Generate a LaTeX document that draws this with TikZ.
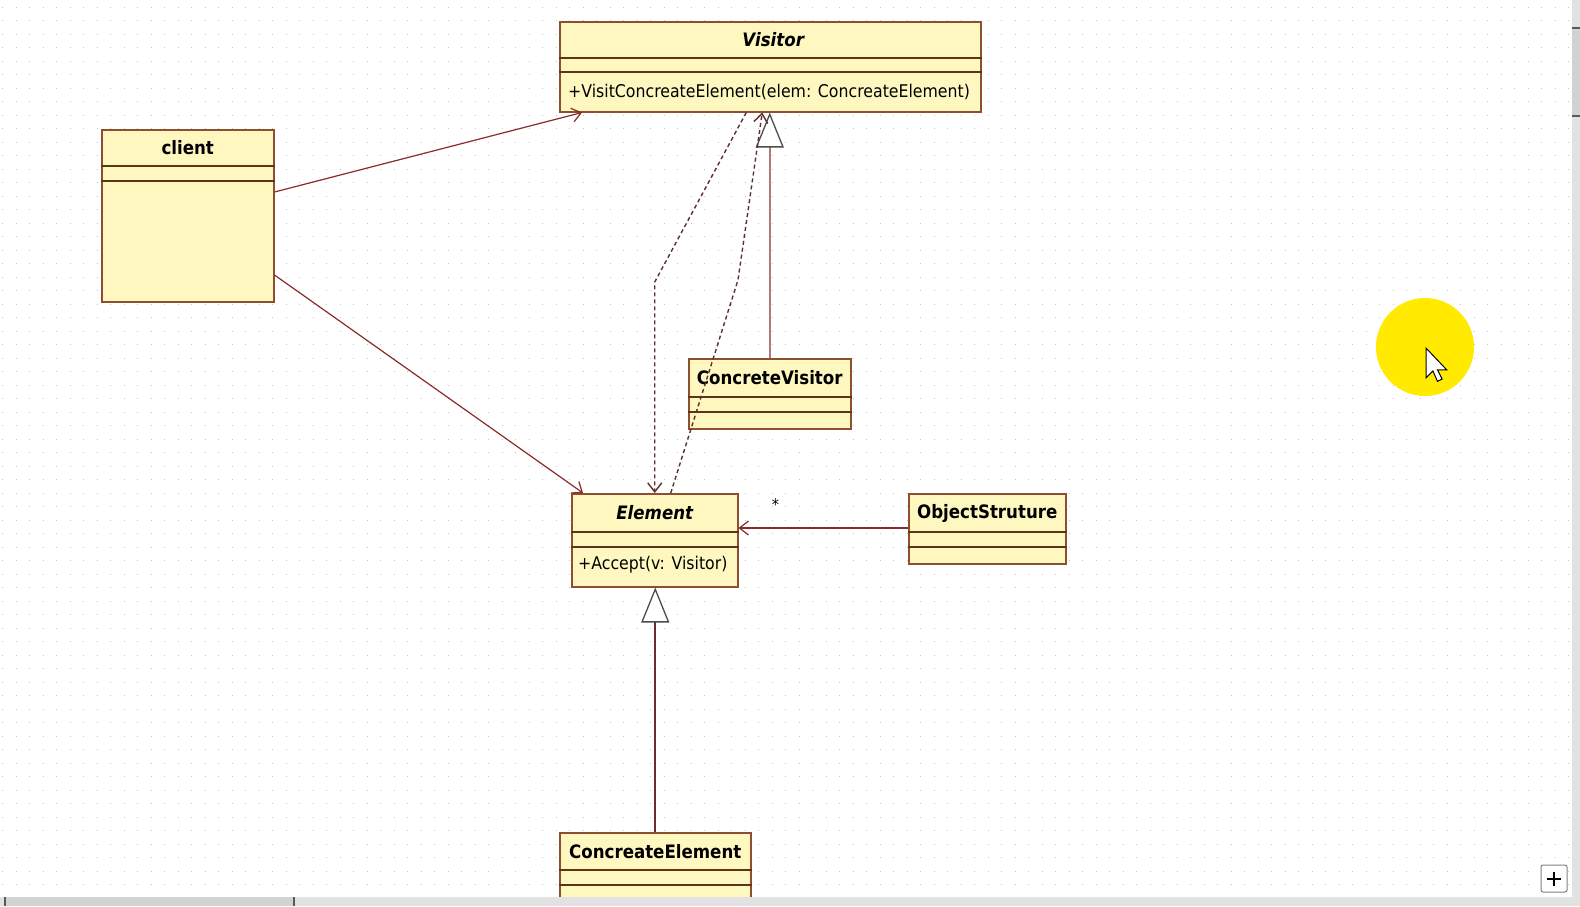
\documentclass[tikz,border=0pt]{standalone}
\usepackage{fontspec}
\setmainfont{DejaVu Sans}[FakeStretch=0.9]
\usetikzlibrary{arrows.meta,positioning,calc}
\definecolor{clsfill}{HTML}{FFF7C0}
\definecolor{clsdraw}{HTML}{8C5030}
\definecolor{clssep}{HTML}{5E3418}
\definecolor{assoc}{HTML}{8B2A2A}
\definecolor{dep}{HTML}{5A3030}
\definecolor{gen}{HTML}{6A2C2C}
\definecolor{genpale}{HTML}{B07A7A}
\definecolor{gridgray}{HTML}{C4C4C4}
\definecolor{barfill}{HTML}{E2E2E2}
\definecolor{thumbfill}{HTML}{D2D2D2}
\definecolor{marker}{HTML}{FFEA00}
\tikzset{
  >=Latex,
  % classes
  cls/.style={draw=clsdraw,fill=clsfill,line width=1.5pt,inner sep=0pt,anchor=north west},
  sepline/.style={draw=clssep,line width=1.4pt},
  clsname/.style={font=\fontsize{18.5}{20}\selectfont\bfseries,inner sep=0pt},
  oper/.style={font=\fontsize{17.5}{20}\selectfont,anchor=west,inner sep=0pt},
  mult/.style={font=\fontsize{16}{18}\selectfont,inner sep=0pt},
  % connectors
  assocline/.style={draw=assoc,line width=1.2pt,-{Straight Barb[length=9pt,width=14pt]}},
  depline/.style={assocline,draw=dep,line width=1.4pt,dash pattern=on 4pt off 3pt},
  genline/.style={draw=gen,line width=1.8pt,
    -{Triangle[length=35pt,width=28pt,fill=white,color=black!70,line width=1.3pt]}},
  % screen parts
  griddot/.style={draw=gridgray,line width=1pt,dash pattern=on 1pt off 12.5pt},
  barend/.style={draw=black!65,line width=2pt}
}

\begin{document}
\begin{tikzpicture}[x=1pt,y=-1pt]
  %--- canvas
  \fill[white] (0,0) rectangle (1580,906);
  \useasboundingbox (0,0) rectangle (1580,906);
  \foreach \y in {7,20.5,...,894}
    \draw[griddot] (2,\y) -- (1570,\y);

  %--- classes
  \node[cls,minimum width=421pt,minimum height=90pt] (visitor) at (559,21) {};
  \node[cls,minimum width=172pt,minimum height=172pt] (client) at (101,129) {};
  \node[cls,minimum width=162pt,minimum height=70pt] (concVisitor) at (688,358) {};
  \node[cls,minimum width=166pt,minimum height=93pt] (element) at (571,493) {};
  \node[cls,minimum width=157pt,minimum height=70pt] (objStruct) at (908,493) {};
  \node[cls,minimum width=191pt,minimum height=70pt] (concElement) at (559,832) {};

  %--- compartments
  \foreach \n/\a/\b in {visitor/37pt/51pt,client/37pt/52pt,concVisitor/39pt/54pt,
                        element/39pt/54pt,objStruct/39pt/54pt,concElement/38pt/53pt}{
    \draw[sepline] ([yshift=-\a]\n.north west) -- ([yshift=-\a]\n.north east);
    \draw[sepline] ([yshift=-\b]\n.north west) -- ([yshift=-\b]\n.north east);
  }

  %--- names and operations
  \node[clsname] (visitorName) at ([xshift=3pt,yshift=-19pt]visitor.north) {\itshape Visitor};
  \node[clsname] (clientName) at ([yshift=-19pt]client.north) {client};
  \node[clsname] (concVisitorName) at ([yshift=-20pt]concVisitor.north) {ConcreteVisitor};
  \node[clsname] (elementName) at ([yshift=-20pt]element.north) {\itshape Element};
  \node[clsname] (objStructName) at ([yshift=-20pt]objStruct.north) {ObjectStruture};
  \node[clsname] (concElementName) at ([yshift=-20pt]concElement.north) {ConcreateElement};
  \node[oper] (visitorOp) at ([xshift=9pt,yshift=-70.5pt]visitor.north west)
    {+VisitConcreateElement(elem: ConcreateElement)};
  \node[oper] (elementOp) at ([xshift=7pt,yshift=-72pt]element.north west)
    {+Accept(v: Visitor)};

  %--- associations
  \coordinate (objOut) at ([yshift=-35pt]objStruct.north west);
  \draw[assocline] ([yshift=-63pt]client.north east) -- ([xshift=23pt]visitor.south west);
  \draw[assocline] ([yshift=-146pt]client.north east) -- ([xshift=12pt]element.north west);
  \draw[assocline] (objOut) -- (element.east |- objOut);
  \node[mult] (many) at ([xshift=37pt,yshift=-12pt]element.north east) {*};

  %--- generalizations
  \draw[genline,draw=genpale] (concVisitor.north) -- (concVisitor.north |- visitor.south);
  \draw[genline] (concElement.north) -- (concElement.north |- element.south);

  %--- dependencies
  \coordinate (bendA) at ($(element.north)+(0,-211)$);
  \coordinate (bendB) at (738,280);
  \draw[depline] ([xshift=-24pt]visitor.south) -- (bendA) -- (element.north);
  \draw[depline] ([xshift=16pt]element.north) -- (bendB) -- ([xshift=-8pt]visitor.south);

  %--- pointer highlight
  \fill[marker] (1425,347) circle[radius=49pt];
  \filldraw[fill=white,draw=black,line width=1pt,shift={(1426,348)},scale=1.15]
    (0,0) -- (0,26) -- (6,20) -- (10,29) -- (14,27) -- (10,19) -- (18,19) -- cycle;

  %--- scroll bars
  \fill[barfill] (0,897) rectangle (1580,906);
  \fill[thumbfill] (4,897) rectangle (295,906);
  \draw[barend] (5,897) -- (5,906) (294,897) -- (294,906);
  \fill[barfill] (1572,0) rectangle (1580,897);
  \fill[thumbfill] (1572,27) rectangle (1580,117);
  \draw[barend] (1572,28) -- (1580,28) (1572,116) -- (1580,116);
  \draw[gray,fill=white,line width=1pt,rounded corners=2pt] (1541,865) rectangle (1567,892);
  \draw[black,line width=2pt] (1547,878.5) -- (1561,878.5) (1554,871.5) -- (1554,885.5);
\end{tikzpicture}
\end{document}
